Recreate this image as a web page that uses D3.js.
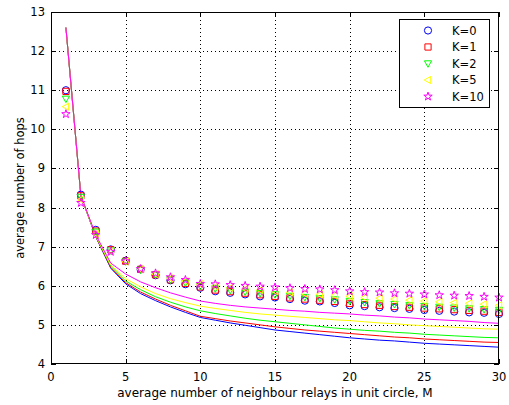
<!DOCTYPE html>
<html><head><meta charset="utf-8">
<script src="https://cdn.jsdelivr.net/npm/d3@7"></script>
<style>body{margin:0;background:#fff}svg{display:block}text{font-family:"DejaVu Sans",sans-serif;fill:#000}</style>
</head><body>
<script>
const M = d3.range(1, 31);
const xTicks = [0,5,10,15,20,25,30];
const yTicks = [4,5,6,7,8,9,10,11,12,13];
const seriesNames = ["K=0","K=1","K=2","K=5","K=10"];
const seriesColors = ["#0000ff","#ff0000","#00ff00","#ffff00","#ff00ff"];
const seriesShapes = ["circle","square","triDown","triLeft","star"];

// simulated (markers)
const simK0  = [11.00,8.33,7.43,6.93,6.64,6.42,6.27,6.14,6.04,5.95,5.86,5.82,5.78,5.73,5.70,5.66,5.62,5.60,5.56,5.50,5.48,5.45,5.43,5.41,5.38,5.36,5.34,5.32,5.31,5.28];
const simK1  = [10.97,8.30,7.40,6.92,6.63,6.42,6.28,6.15,6.06,5.97,5.89,5.85,5.81,5.77,5.73,5.69,5.66,5.63,5.60,5.55,5.52,5.50,5.47,5.45,5.43,5.41,5.39,5.37,5.35,5.32];
const simK2  = [10.78,8.27,7.38,6.90,6.62,6.41,6.28,6.16,6.08,6.00,5.93,5.89,5.85,5.81,5.78,5.74,5.71,5.68,5.65,5.61,5.58,5.55,5.53,5.50,5.48,5.46,5.44,5.42,5.40,5.38];
const simK5  = [10.58,8.20,7.33,6.88,6.62,6.42,6.30,6.19,6.12,6.04,5.98,5.95,5.92,5.89,5.86,5.83,5.80,5.78,5.76,5.73,5.70,5.68,5.66,5.63,5.61,5.59,5.57,5.55,5.53,5.50];
const simK10 = [10.39,8.12,7.30,6.87,6.63,6.43,6.32,6.22,6.15,6.05,6.04,6.02,6.00,5.98,5.96,5.94,5.92,5.91,5.89,5.86,5.84,5.83,5.81,5.80,5.78,5.76,5.75,5.74,5.72,5.70];

// analytical (lines)
const anaK0  = [12.6,8.30,7.25,6.45,6.05,5.80,5.62,5.46,5.32,5.19,5.12,5.05,4.99,4.93,4.87,4.83,4.79,4.75,4.71,4.67,4.64,4.61,4.59,4.56,4.53,4.51,4.49,4.47,4.45,4.43];
const anaK1  = [12.6,8.30,7.26,6.47,6.08,5.84,5.66,5.50,5.36,5.22,5.16,5.10,5.05,5.00,4.95,4.91,4.87,4.84,4.81,4.78,4.75,4.72,4.69,4.67,4.64,4.62,4.60,4.58,4.56,4.55];
const anaK2  = [12.6,8.30,7.27,6.50,6.12,5.90,5.72,5.58,5.46,5.36,5.29,5.23,5.17,5.12,5.08,5.04,5.00,4.96,4.92,4.89,4.86,4.84,4.81,4.79,4.76,4.74,4.72,4.70,4.68,4.67];
const anaK5  = [12.6,8.30,7.28,6.53,6.18,5.97,5.80,5.67,5.57,5.48,5.42,5.37,5.32,5.28,5.25,5.22,5.19,5.16,5.13,5.11,5.08,5.05,5.03,5.00,4.98,4.96,4.94,4.92,4.90,4.89];
const anaK10 = [12.6,8.30,7.30,6.58,6.30,6.10,5.95,5.82,5.71,5.61,5.55,5.50,5.46,5.43,5.40,5.37,5.35,5.32,5.30,5.28,5.25,5.23,5.20,5.18,5.15,5.13,5.11,5.09,5.06,5.04];

const sims = [simK0, simK1, simK2, simK5, simK10];
const anas = [anaK0, anaK1, anaK2, anaK5, anaK10];

const W = 509, H = 405;
const L = 51, R = 499, T = 12, B = 364;
const svg = d3.select("body").append("svg").attr("width", W).attr("height", H);
const x = d3.scaleLinear().domain([0,30]).range([L,R]);
const y = d3.scaleLinear().domain([4,13]).range([B,T]);

// grid
const grid = svg.append("g").attr("stroke","#000").attr("stroke-width",1).attr("stroke-dasharray","1,3");
grid.selectAll(".gx").data(xTicks.slice(1,-1)).join("line")
  .attr("x1", d => Math.round(x(d))+0.5).attr("x2", d => Math.round(x(d))+0.5).attr("y1", T).attr("y2", B);
grid.selectAll(".gy").data(yTicks.slice(1,-1)).join("line")
  .attr("y1", d => Math.round(y(d))+0.5).attr("y2", d => Math.round(y(d))+0.5).attr("x1", L).attr("x2", R);

// lines
const line = d3.line().x((d,i) => x(M[i])).y(d => y(d));
anas.forEach((a,k) => {
  svg.append("path").datum(a).attr("d", line).attr("fill","none")
    .attr("stroke", seriesColors[k]).attr("stroke-width", 1);
});

// markers
function markerPath(shape, s) {
  if (shape === "circle") return d3.symbol(d3.symbolCircle, Math.PI*s*s)();
  if (shape === "square") return `M${-s},${-s}H${s}V${s}H${-s}Z`;
  if (shape === "triDown") return `M${-s},${-s*0.75}H${s}L0,${s*1.05}Z`;
  if (shape === "triLeft") return `M${s*0.75},${-s}V${s}L${-s*1.05},0Z`;
  if (shape === "star") {
    let p = [];
    for (let i = 0; i < 10; i++) {
      const r = i % 2 ? s*0.42 : s*1.1;
      const a = -Math.PI/2 + i*Math.PI/5;
      p.push([r*Math.cos(a), r*Math.sin(a)]);
    }
    return "M" + p.map(q => q[0].toFixed(2)+","+q[1].toFixed(2)).join("L") + "Z";
  }
}
const msize = [3.6, 3.1, 3.6, 3.6, 4.0];
sims.forEach((sv,k) => {
  svg.append("g").selectAll("path").data(sv).join("path")
    .attr("transform", (d,i) => `translate(${x(M[i])},${y(d)})`)
    .attr("d", markerPath(seriesShapes[k], msize[k]))
    .attr("fill","none").attr("stroke", seriesColors[k]).attr("stroke-width", 1);
});

// frame
svg.append("rect").attr("x", L+0.5).attr("y", T+0.5).attr("width", R-L-1).attr("height", B-T-1)
  .attr("fill","none").attr("stroke","#000").attr("stroke-width",1);

// ticks (inward, all sides)
const tk = svg.append("g").attr("stroke","#000").attr("stroke-width",1);
xTicks.forEach(d => {
  const xx = Math.round(x(d))+0.5;
  tk.append("line").attr("x1",xx).attr("x2",xx).attr("y1",B).attr("y2",B-5);
  tk.append("line").attr("x1",xx).attr("x2",xx).attr("y1",T).attr("y2",T+5);
});
yTicks.forEach(d => {
  const yy = Math.round(y(d))+0.5;
  tk.append("line").attr("y1",yy).attr("y2",yy).attr("x1",L).attr("x2",L+5);
  tk.append("line").attr("y1",yy).attr("y2",yy).attr("x1",R).attr("x2",R-5);
});

// tick labels
svg.append("g").selectAll("text").data(xTicks).join("text")
  .attr("x", d => x(d)).attr("y", B+17).attr("text-anchor","middle")
  .attr("font-size", 11.5).text(d => d);
svg.append("g").selectAll("text").data(yTicks).join("text")
  .attr("x", L-6).attr("y", d => y(d)+4).attr("text-anchor","end")
  .attr("font-size", 11.5).text(d => d);

// axis labels
svg.append("text").attr("x", (L+R)/2).attr("y", 397).attr("text-anchor","middle")
  .attr("font-size", 12).text("average number of neighbour relays in unit circle, M");
svg.append("text").attr("transform", `translate(24,${(T+B)/2}) rotate(-90)`)
  .attr("text-anchor","middle").attr("font-size", 11.5).text("average number of hops");

// legend
const lg = svg.append("g");
lg.append("rect").attr("x", 399.5).attr("y", 19.5).attr("width", 90).attr("height", 88)
  .attr("fill","#fff").attr("stroke","#000").attr("stroke-width",1);
seriesNames.forEach((n,k) => {
  const yy = 30.5 + k*16.5;
  lg.append("path").attr("transform", `translate(428,${yy})`)
    .attr("d", markerPath(seriesShapes[k], msize[k]))
    .attr("fill","none").attr("stroke", seriesColors[k]).attr("stroke-width",1);
  lg.append("text").attr("x", 452).attr("y", yy+4).attr("font-size", 11.5).text(n);
});
</script>
</body></html>
